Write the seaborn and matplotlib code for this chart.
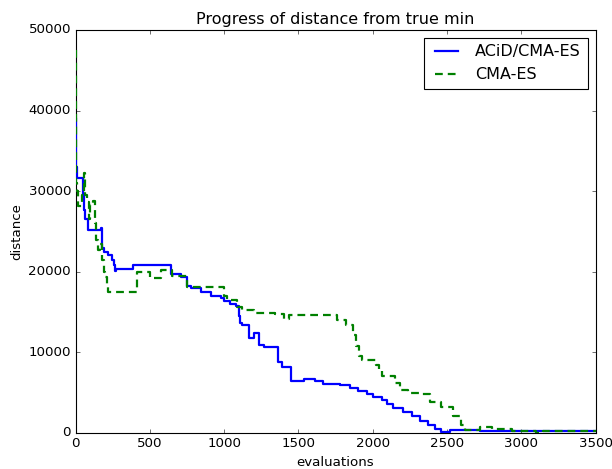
import matplotlib
matplotlib.use("Agg")
import matplotlib.pyplot as plt
import seaborn as sns
import pandas as pd

# ---- data ----
acid_evals = [0, 4, 8, 48, 55, 65, 82, 171, 175, 180, 193, 216, 249, 258, 265, 272,
              390, 502, 640, 707, 752, 780, 842, 909, 976, 1000, 1043, 1077, 1100,
              1106, 1121, 1166, 1200, 1233, 1267, 1360, 1390, 1450, 1535, 1613,
              1669, 1781, 1848, 1904, 1960, 2004, 2060, 2094, 2139, 2206, 2262,
              2317, 2373, 2418, 2462, 2518, 2630, 2720, 3500]
acid_dist = [39000, 33000, 31600, 29500, 27700, 26500, 25200, 25400, 24000, 23000,
             22500, 22100, 21500, 20800, 20100, 20350, 20900, 20850, 19700, 19300,
             18300, 18000, 17530, 17000, 16800, 16400, 16000, 15700, 14500, 13700,
             13400, 11800, 12400, 10900, 10650, 8800, 8250, 6400, 6650, 6450, 6050,
             5900, 5550, 5150, 4850, 4500, 4100, 3560, 3060, 2640, 2100, 1490, 990,
             460, 160, 400, 330, 250, 250]

cma_evals = [0, 3, 10, 20, 45, 55, 65, 75, 90, 100, 115, 130, 140, 150, 165, 175,
             190, 200, 210, 220, 417, 500, 573, 650, 752, 1000, 1020, 1090, 1120,
             1200, 1340, 1400, 1440, 1760, 1820, 1870, 1885, 1905, 1926, 2020,
             2040, 2060, 2150, 2183, 2240, 2317, 2384, 2462, 2541, 2597, 2620,
             2720, 2800, 2940, 3100, 3145, 3500]
cma_dist = [47500, 31000, 30000, 28200, 29500, 32300, 29500, 28700, 26500, 28300,
            28800, 26000, 24000, 22700, 23500, 21500, 20000, 19300, 18300, 17550,
            20000, 19200, 20200, 19500, 18100, 17000, 16500, 15600, 15260, 14900,
            14800, 14100, 14600, 14000, 13400, 12100, 10800, 9500, 9050, 8400, 7700,
            7100, 6200, 5330, 4960, 4800, 3850, 3200, 2100, 1000, 370, 780, 500,
            250, 30, 250, 250]

series_labels = ["ACiD/CMA-ES", "CMA-ES"]
x_ticks = [0, 500, 1000, 1500, 2000, 2500, 3000, 3500]
y_ticks = [0, 10000, 20000, 30000, 40000, 50000]

plt.style.use("classic")
plt.rcParams["lines.scale_dashes"] = False

df_a = pd.DataFrame({"evaluations": acid_evals, "distance": acid_dist})
df_c = pd.DataFrame({"evaluations": cma_evals, "distance": cma_dist})

fig = plt.figure(figsize=(612 / 80, 469 / 80), dpi=80, facecolor="white")
ax = fig.add_axes([75.5 / 612, 36 / 469, 520 / 612, 403 / 469])

sns.lineplot(data=df_a, x="evaluations", y="distance", ax=ax, color="#0000ff",
             linewidth=2, estimator=None, sort=False, drawstyle="steps-post",
             label=series_labels[0], zorder=3)
sns.lineplot(data=df_c, x="evaluations", y="distance", ax=ax, color="#008000",
             linewidth=2, estimator=None, sort=False, drawstyle="steps-post",
             linestyle=(0, (7, 4.5)), label=series_labels[1], zorder=3)

ax.set_xlim(0, 3500)
ax.set_ylim(0, 50000)
ax.set_xticks(x_ticks)
ax.set_yticks(y_ticks)
ax.set_xlabel("evaluations")
ax.set_ylabel("distance")
ax.set_title("Progress of distance from true min")
ax.legend(loc="upper right", fontsize="large", frameon=True, fancybox=False,
          numpoints=2, handlelength=2.0)

fig.savefig("out.png", dpi=80, facecolor="white")
